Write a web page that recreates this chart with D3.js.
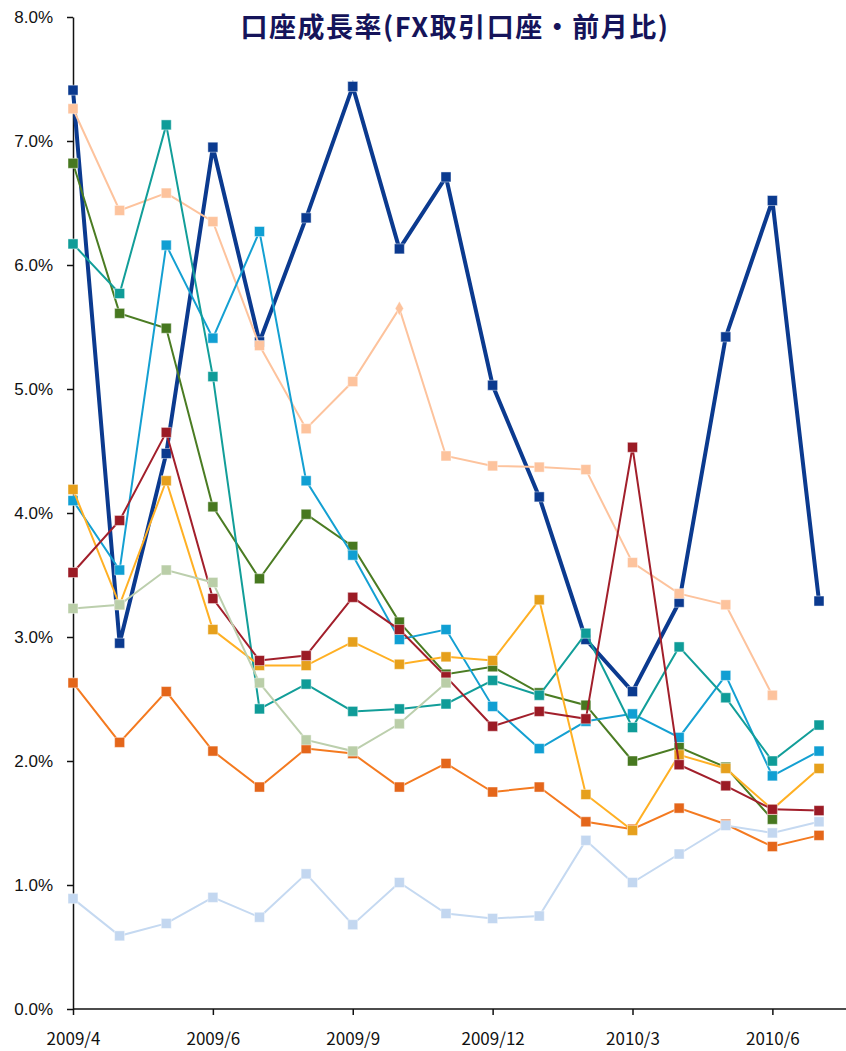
<!DOCTYPE html>
<html lang="ja">
<head>
<meta charset="UTF-8">
<title>口座成長率</title>
<script src="https://d3js.org/d3.v7.min.js"></script>
<style>
  body { margin: 0; background: #fff; }
</style>
</head>
<body>
<svg></svg>
<script>
const w = 846, h = 1051;

// 17 monthly points; labels only on every third
const categories = d3.range(17);
const tickIdx = [0, 3, 6, 9, 12, 15];
const tickLabels = ["2009/4", "2009/6", "2009/9", "2009/12", "2010/3", "2010/6"];

const sNavy   = [7.41, 2.95, 4.48, 6.95, 5.38, 6.38, 7.44, 6.13, 6.71, 5.03, 4.13, 2.98, 2.56, 3.28, 5.42, 6.52, 3.29];
const sPeach  = [7.26, 6.44, 6.58, 6.35, 5.35, 4.68, 5.06, 5.65, 4.46, 4.38, 4.37, 4.35, 3.60, 3.35, 3.26, 2.53, null];
const sGreen  = [6.82, 5.61, 5.49, 4.05, 3.47, 3.99, 3.73, 3.12, 2.70, 2.76, 2.55, 2.45, 2.00, 2.11, 1.95, 1.53, null];
const sCyan   = [4.10, 3.54, 6.16, 5.41, 6.27, 4.26, 3.66, 2.98, 3.06, 2.44, 2.10, 2.32, 2.38, 2.19, 2.69, 1.88, 2.08];
const sTeal   = [6.17, 5.77, 7.13, 5.10, 2.42, 2.62, 2.40, 2.42, 2.46, 2.65, 2.53, 3.03, 2.27, 2.92, 2.51, 2.00, 2.29];
const sOrange = [2.63, 2.15, 2.56, 2.08, 1.79, 2.10, 2.06, 1.79, 1.98, 1.75, 1.79, 1.51, 1.45, 1.62, 1.49, 1.31, 1.40];
const sYellow = [4.19, 3.26, 4.26, 3.06, 2.77, 2.77, 2.96, 2.78, 2.84, 2.81, 3.30, 1.73, 1.44, 2.05, 1.94, 1.61, 1.94];
const sRed    = [3.52, 3.94, 4.65, 3.31, 2.81, 2.85, 3.32, 3.06, 2.68, 2.28, 2.40, 2.34, 4.53, 1.97, 1.80, 1.61, 1.60];
const sPale   = [3.23, 3.26, 3.54, 3.44, 2.63, 2.17, 2.08, 2.30, 2.63, null, null, null, null, null, null, null, null];
const sLight  = [0.89, 0.59, 0.69, 0.90, 0.74, 1.09, 0.68, 1.02, 0.77, 0.73, 0.75, 1.36, 1.02, 1.25, 1.48, 1.42, 1.51];

const yTicks = d3.range(0, 9);

const series = [
  {values: sNavy,   line: "#0b3a8f", mark: "#0b3a8f", width: 4},
  {values: sPeach,  line: "#fdc39d", mark: "#fdc39d", width: 2, diamond: 7},
  {values: sGreen,  line: "#4b7c23", mark: "#477820", width: 2},
  {values: sCyan,   line: "#14a0d2", mark: "#109fd3", width: 2},
  {values: sTeal,   line: "#129e99", mark: "#0f9c98", width: 2},
  {values: sOrange, line: "#f47a20", mark: "#e4661a", width: 2},
  {values: sYellow, line: "#ffb024", mark: "#e6a01c", width: 2},
  {values: sRed,    line: "#a21f2b", mark: "#9b1b25", width: 2},
  {values: sPale,   line: "#bccfad", mark: "#bacea8", width: 2},
  {values: sLight,  line: "#c5d9f1", mark: "#c3d7f0", width: 2}
];

const svg = d3.select("svg").attr("width", w).attr("height", h);

const x = d3.scalePoint().domain(categories).range([73, 819]);
const y = d3.scaleLinear().domain([0, 8]).range([1009, 17]);

// title
svg.append("text")
  .attr("x", 455).attr("y", 37)
  .attr("text-anchor", "middle")
  .attr("font-family", "'Noto Sans CJK JP', sans-serif")
  .attr("font-weight", "bold")
  .attr("font-size", 27)
  .attr("letter-spacing", 1.5)
  .attr("fill", "#15145a")
  .text("口座成長率(FX取引口座・前月比)");

// y axis
const yAxis = svg.append("g")
  .attr("transform", "translate(73,0)")
  .call(d3.axisLeft(y).tickValues(yTicks).tickSize(6).tickSizeOuter(0)
    .tickFormat(d => d.toFixed(1) + "%"));
yAxis.selectAll("text")
  .attr("font-family", "'Liberation Sans', Arial, sans-serif")
  .attr("font-size", 17).attr("fill", "#111").attr("x", -20);
yAxis.selectAll("line,path").attr("stroke", "#111").attr("stroke-width", 1.5);

// x axis
const xAxis = svg.append("g")
  .attr("transform", "translate(0,1009)")
  .call(d3.axisBottom(x).tickValues(tickIdx).tickSize(6).tickSizeOuter(0)
    .tickFormat(d => tickLabels[tickIdx.indexOf(d)]));
xAxis.select(".domain").remove();
xAxis.append("line").attr("x1", 73).attr("x2", w).attr("stroke", "#111").attr("stroke-width", 1.5);
xAxis.selectAll("line").attr("stroke", "#111").attr("stroke-width", 1.5);
xAxis.selectAll("text")
  .attr("font-family", "'Noto Sans CJK JP', sans-serif")
  .attr("font-size", 17).attr("fill", "#111").attr("y", 24);

const line = d3.line()
  .defined(d => d != null)
  .x((d, i) => x(i))
  .y(d => y(d));

const plot = svg.append("g");

series.forEach(s => {
  const g = plot.append("g");
  g.append("path")
    .attr("d", line(s.values))
    .attr("fill", "none")
    .attr("stroke", s.line)
    .attr("stroke-width", s.width)
    .attr("stroke-linejoin", "miter");

  const pts = s.values.map((v, i) => ({v, i})).filter(d => d.v != null);
  g.selectAll("path.mk")
    .data(pts)
    .enter()
    .append("path")
      .attr("class", "mk")
      .attr("transform", d => `translate(${x(d.i)},${y(d.v)})`)
      .attr("d", d => d.i === s.diamond
        ? d3.symbol(d3.symbolDiamond, 60)()
        : "M-5,-5H5V5H-5Z")
      .attr("fill", s.mark)
      .attr("stroke", "rgba(255,255,255,0.45)")
      .attr("stroke-width", 1);
});
</script>
</body>
</html>
